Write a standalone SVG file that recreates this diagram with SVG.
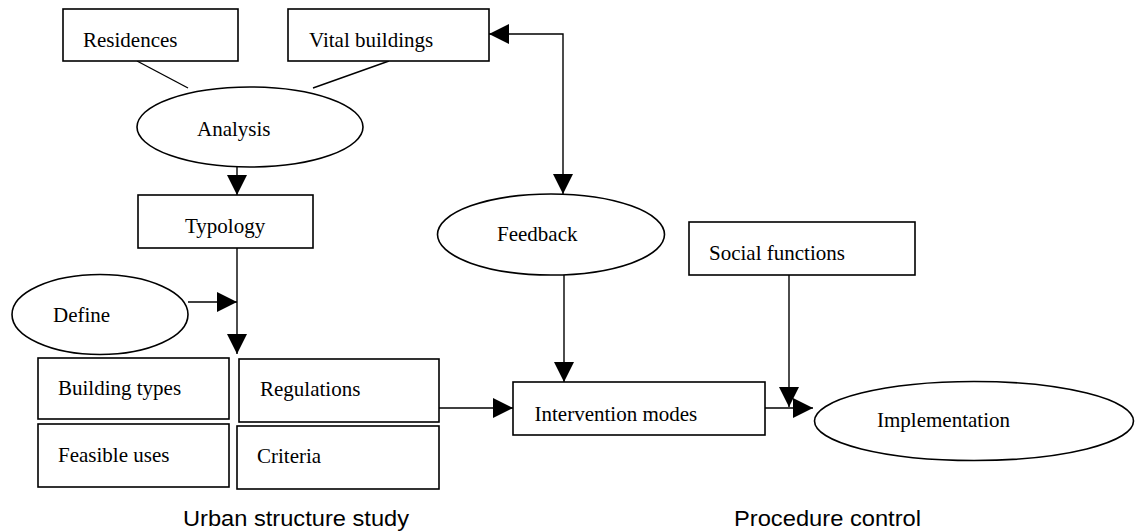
<svg xmlns="http://www.w3.org/2000/svg" width="1135" height="532" viewBox="0 0 1135 532">
<style>
.box{fill:#fff;stroke:#000;stroke-width:1.6}
.el{fill:#fff;stroke:#000;stroke-width:1.6}
.lbl{font-family:"Liberation Serif","Times New Roman",serif;font-size:21px;fill:#000}
.cap{font-family:"Liberation Sans",Arial,sans-serif;font-size:22px;fill:#000}
.con{fill:none;stroke:#000;stroke-width:1.4}
.arr{marker-end:url(#ah)}
</style>
<defs>
<marker id="ah" markerUnits="userSpaceOnUse" markerWidth="20" markerHeight="20" refX="20" refY="10" orient="auto-start-reverse" viewBox="0 0 20 20">
<path d="M0,0 L20,10 L0,20 z" fill="#000"/>
</marker>
</defs>
<rect width="1135" height="532" fill="#fff"/>
<g id="connectors">
<line class="con" x1="137" y1="61" x2="188" y2="88"/>
<line class="con" x1="389" y1="61" x2="313" y2="88"/>
<line class="con arr" x1="237" y1="167" x2="237" y2="195"/>
<line class="con arr" x1="237" y1="248" x2="237" y2="354"/>
<line class="con arr" x1="188" y1="302" x2="237" y2="302"/>
<path class="con arr" d="M489,34 H563 V194" marker-start="url(#ah)"/>
<line class="con arr" x1="439" y1="408" x2="513" y2="408"/>
<line class="con arr" x1="564" y1="275" x2="564" y2="382"/>
<line class="con arr" x1="789" y1="275" x2="789" y2="407"/>
<line class="con arr" x1="765" y1="408" x2="813" y2="408"/>
</g>
<g id="residences"><rect class="box" x="63" y="9" width="175" height="52"/><text class="lbl" x="83" y="47">Residences</text></g>
<g id="vital-buildings"><rect class="box" x="288" y="9" width="201" height="52"/><text class="lbl" x="309" y="47">Vital buildings</text></g>
<g id="analysis"><ellipse class="el" cx="250" cy="127" rx="113" ry="40"/><text class="lbl" x="197" y="136">Analysis</text></g>
<g id="typology"><rect class="box" x="138" y="195" width="175" height="53"/><text class="lbl" x="185" y="233">Typology</text></g>
<g id="define"><ellipse class="el" cx="100" cy="314.5" rx="88" ry="40"/><text class="lbl" x="53" y="322">Define</text></g>
<g id="building-types"><rect class="box" x="38" y="358" width="191" height="61"/><text class="lbl" x="58" y="395">Building types</text></g>
<g id="feasible-uses"><rect class="box" x="38" y="424" width="191" height="63"/><text class="lbl" x="58" y="462">Feasible uses</text></g>
<g id="regulations"><rect class="box" x="239" y="359" width="200" height="63"/><text class="lbl" x="260" y="396">Regulations</text></g>
<g id="criteria"><rect class="box" x="237" y="426" width="202" height="63"/><text class="lbl" x="257" y="463">Criteria</text></g>
<g id="feedback"><ellipse class="el" cx="551" cy="234.5" rx="113.5" ry="40.5"/><text class="lbl" x="497" y="241">Feedback</text></g>
<g id="social-functions"><rect class="box" x="689" y="222" width="226" height="53"/><text class="lbl" x="709" y="260">Social functions</text></g>
<g id="intervention-modes"><rect class="box" x="513" y="382" width="252" height="53"/><text class="lbl" x="534.5" y="421">Intervention modes</text></g>
<g id="implementation"><ellipse class="el" cx="974" cy="421" rx="159.5" ry="39.5"/><text class="lbl" x="877" y="427">Implementation</text></g>
<g id="captions">
<text class="cap" x="183" y="526" textLength="226" lengthAdjust="spacingAndGlyphs">Urban structure study</text>
<text class="cap" x="734" y="526" textLength="187" lengthAdjust="spacingAndGlyphs">Procedure control</text>
</g>
</svg>
